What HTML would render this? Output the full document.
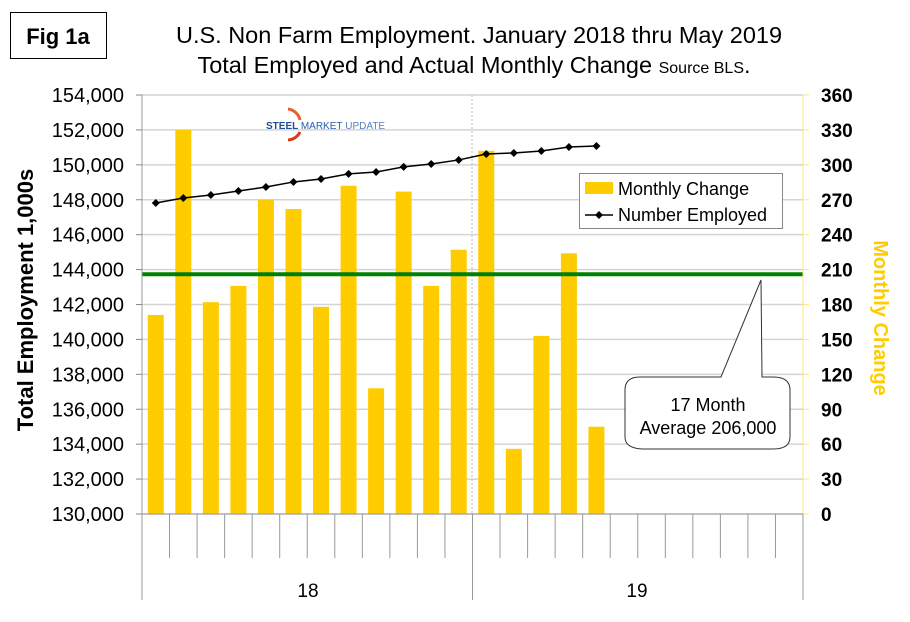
<!DOCTYPE html>
<html><head><meta charset="utf-8"><style>
html,body{margin:0;padding:0;background:#fff;}
svg{display:block;font-family:"Liberation Sans",Arial,sans-serif;}
</style></head><body>
<svg id="chart" width="910" height="622" viewBox="0 0 910 622">
  <rect x="10.5" y="12.5" width="96" height="46" fill="#fff" stroke="#000" stroke-width="1"/>
  <text x="58" y="44" font-size="22" font-weight="bold" text-anchor="middle">Fig 1a</text>
  <text x="479" y="43" font-size="23.5" text-anchor="middle">U.S. Non Farm Employment. January 2018 thru May 2019</text>
  <text x="474" y="73" font-size="23.5" text-anchor="middle">Total Employed and Actual Monthly Change <tspan font-size="16">Source BLS</tspan>.</text>
  <g id="grid"></g>
  <g id="bars"></g>
  <line x1="472" y1="95" x2="472" y2="514" stroke="#bbb" stroke-dasharray="2,2"/>
  <g>
    <path d="M288,109 A14,14 0 0 1 300,120" fill="none" stroke="#e8602a" stroke-width="3"/>
    <path d="M300,132 A14,14 0 0 1 288,140" fill="none" stroke="#d83a20" stroke-width="3"/>
    <text x="266" y="129" font-size="10" font-weight="bold" fill="#1f4e9a">STEEL <tspan font-weight="normal" fill="#2a5aa8">MARKET</tspan> <tspan font-weight="normal" fill="#5a7fc0">UPDATE</tspan></text>
  </g>
  <line id="avgline" x1="142" x2="803" stroke="#008000" stroke-width="4"/>
  <g id="line"></g>
  <g id="axes"></g>
  <g>
    <rect x="579.5" y="173.5" width="203" height="55" fill="#fff" stroke="#888"/>
    <rect x="585" y="182" width="28" height="12" fill="#ffcc00"/>
    <text x="618" y="195" font-size="18">Monthly Change</text>
    <line x1="585" y1="215" x2="613" y2="215" stroke="#000" stroke-width="1.5"/>
    <path d="M599,211 L603,215 L599,219 L595,215Z" fill="#000"/>
    <text x="618" y="221" font-size="18">Number Employed</text>
  </g>
  <path d="M761,280 L721,377 L640,377 Q625,377 625,390 L625,437 Q625,449 645,449 L773,449 Q790,449 790,437 L790,390 Q790,377 773,377 L762,377 Z" fill="#fff" stroke="#333" stroke-width="1"/>
  <text x="708" y="411" font-size="18" text-anchor="middle">17 Month</text>
  <text x="708" y="434" font-size="18" text-anchor="middle">Average 206,000</text>
  <text transform="translate(33,300) rotate(-90)" font-size="22" font-weight="bold" text-anchor="middle">Total Employment 1,000s</text>
  <text transform="translate(874,318) rotate(90)" font-size="20" font-weight="bold" fill="#ffcc00" text-anchor="middle">Monthly Change</text>
  <text x="308" y="597" font-size="19" text-anchor="middle">18</text>
  <text x="637" y="597" font-size="19" text-anchor="middle">19</text>
</svg>
<script>
const monthlyChange = [171,330,182,196,270,262,178,282,108,277,196,227,312,56,153,224,75];
const employed = [147815,148100,148270,148500,148730,149020,149190,149480,149590,149880,150050,150280,150620,150680,150790,151020,151080];
const averageChange = 206;
const leftTicks = [130000,132000,134000,136000,138000,140000,142000,144000,146000,148000,150000,152000,154000];
const rightTicks = [0,30,60,90,120,150,180,210,240,270,300,330,360];
const slotCount = 24;

const NS='http://www.w3.org/2000/svg';
const X0=142,X1=803,Y0=514,Y1=95;
const slot=(X1-X0)/slotCount;
const yL=v=>Y0-(v-130000)/(154000-130000)*(Y0-Y1);
const yR=v=>Y0-v/360*(Y0-Y1);
const xC=i=>X0+slot*(i+0.5);
function mk(tag,attrs,parent){const e=document.createElementNS(NS,tag);for(const k in attrs)e.setAttribute(k,attrs[k]);parent.appendChild(e);return e;}
const grid=document.getElementById('grid'),axes=document.getElementById('axes'),bars=document.getElementById('bars'),line=document.getElementById('line');
leftTicks.forEach((t,i)=>{
  const y=yL(t);
  const g=mk('line',{x1:X0,x2:X1,y1:y,y2:y,stroke:'#d4d4d4','stroke-width':1.5},grid);
  
  
  const tk=mk('line',{x1:136,x2:X0,y1:y,y2:y,stroke:'#888'},axes);
  
  
  const tx=mk('text',{x:124,y:y+7,'font-size':20,'text-anchor':'end'},axes);
  tx.textContent=t.toLocaleString('en-US');
  
  
});
rightTicks.forEach(t=>{
  const y=yR(t);
  const tk=mk('line',{x1:X1,x2:X1+6,y1:y,y2:y,stroke:'#ffe680'},axes);
  
  
  const tx=mk('text',{x:821,y:y+7,'font-size':19,'font-weight':'bold'},axes);
  tx.textContent=t;
  
  
});
mk('line',{x1:X0,x2:X0,y1:Y1,y2:600,stroke:'#999'},axes);
mk('line',{x1:X1,x2:X1,y1:Y1,y2:Y0,stroke:'#ffe680'},axes);
mk('line',{x1:X1,x2:X1,y1:Y0,y2:600,stroke:'#999'},axes);
mk('line',{x1:X0,x2:X1,y1:Y0,y2:Y0,stroke:'#999'},axes);
for(let i=1;i<slotCount;i++){
  const x=X0+slot*i;
  const l=mk('line',{x1:x,x2:x,y1:Y0,y2:i===12?600:558,stroke:'#999'},axes);
  
  
}
monthlyChange.forEach((v,i)=>{
  const r=mk('rect',{x:xC(i)-8,y:yR(v),width:16,height:Y0-yR(v),fill:'#ffcc00'},bars);
  
  
});
const av=document.getElementById('avgline');
av.setAttribute('y1',yR(averageChange));av.setAttribute('y2',yR(averageChange));
const pts=employed.map((v,i)=>xC(i)+','+yL(v)).join(' ');
const pl=mk('polyline',{points:pts,fill:'none',stroke:'#000','stroke-width':1.5},line);


employed.forEach((v,i)=>{
  const x=xC(i),y=yL(v);
  const m=mk('path',{d:`M${x},${y-4}L${x+4},${y}L${x},${y+4}L${x-4},${y}Z`,fill:'#000'},line);
  
  
});
</script>
</body></html>
